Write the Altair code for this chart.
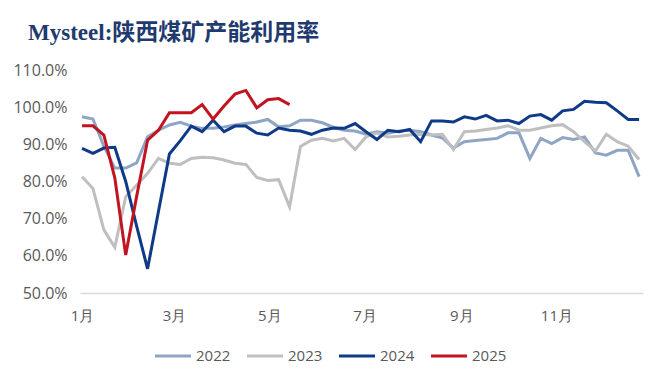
import altair as alt
import pandas as pd

years = ["2022", "2023", "2024", "2025"]
colors = ["#8EA5C6", "#BFBFBF", "#0E3A87", "#C01420"]
week_index = list(range(52))

y2022 = [97.4, 96.8, 89.5, 83.6, 83.6, 85.0, 92.0, 93.8, 95.2, 95.9,
         94.9, 94.3, 94.3, 94.7, 95.2, 95.6, 96.0, 96.7, 94.7, 95.0,
         96.5, 96.5, 95.8, 94.6, 93.8, 93.6, 92.7, 93.4, 93.0, 93.6,
         93.8, 93.4, 92.5, 91.7, 89.0, 90.7, 91.0, 91.3, 91.6, 93.1,
         93.1, 86.2, 91.6, 90.2, 91.8, 91.3, 92.0, 87.7, 87.1, 88.4,
         88.4, 81.3]
y2023 = [81.3, 78.1, 67.0, 62.3, 75.9, 79.0, 82.2, 86.2, 84.9, 84.6,
         86.2, 86.5, 86.4, 85.8, 84.9, 84.6, 81.1, 80.3, 80.5, 73.2,
         89.4, 91.1, 91.6, 90.9, 91.6, 88.6, 92.0, 93.0, 92.0, 92.2,
         92.5, 92.7, 92.5, 92.7, 88.6, 93.4, 93.6, 94.0, 94.4, 95.0,
         93.8, 93.8, 94.4, 95.0, 95.3, 93.4, 90.7, 88.2, 92.7, 90.7,
         89.5, 85.9]
y2024 = [88.9, 87.6, 89.0, 89.2, 80.0, 68.0, 56.5, 72.0, 87.4, 91.0,
         94.9, 93.4, 96.5, 93.4, 94.9, 94.9, 93.0, 92.5, 94.4, 93.8,
         93.6, 92.7, 93.8, 94.4, 94.3, 95.6, 93.4, 91.3, 93.8, 93.4,
         94.0, 90.7, 96.3, 96.3, 96.0, 97.4, 96.8, 97.8, 96.3, 96.5,
         95.6, 97.6, 98.0, 96.5, 99.0, 99.4, 101.6, 101.3, 101.2, 99.0,
         96.7, 96.7]
y2025 = [95.0, 95.0, 92.5, 81.0, 60.2, 76.0, 91.1, 93.8, 98.5, 98.5,
         98.5, 100.7, 96.8, 100.3, 103.5, 104.5, 99.8, 102.0, 102.3, 100.7]

month_days = [0, 59, 120, 181, 243, 304]
y_ticks = [50, 60, 70, 80, 90, 100, 110]

rows = []
for name, vals in zip(years, [y2022, y2023, y2024, y2025]):
    for w, v in zip(week_index, vals):
        rows.append({"week": w, "year": name, "rate": v})
df = pd.DataFrame(rows)

font = "Open Sans"
label_color = "#595959"

chart = alt.Chart(df).transform_calculate(
    day="datum.week * 7"
).mark_line(strokeWidth=3, strokeJoin="miter").encode(
    x=alt.X("day:Q",
            scale=alt.Scale(domain=[-1.3, 359.5], nice=False, zero=False),
            axis=alt.Axis(values=month_days,
                          labelExpr="timeFormat(datetime(2001, 0, 1 + datum.value), '%-m') + '月'",
                          ticks=False, grid=False, domainColor="#D9D9D9", domainWidth=1.5,
                          labelColor=label_color, labelFontSize=15, labelFont=font,
                          labelPadding=15, labelFlush=False),
            title=None),
    y=alt.Y("rate:Q",
            scale=alt.Scale(domain=[50, 110], nice=False, zero=False),
            axis=alt.Axis(values=y_ticks,
                          labelExpr="format(datum.value, '.1f') + '%'",
                          ticks=False, grid=False, domain=False,
                          labelColor=label_color, labelFontSize=16, labelFont=font,
                          labelPadding=13),
            title=None),
    color=alt.Color("year:N",
                    scale=alt.Scale(domain=years, range=colors),
                    legend=alt.Legend(orient="none", legendX=73, legendY=266,
                                      direction="horizontal", columns=4,
                                      title=None, symbolType="stroke",
                                      symbolStrokeWidth=3, symbolSize=1300,
                                      labelFontSize=15, labelFont=font,
                                      labelColor=label_color, labelOffset=3,
                                      columnPadding=9, padding=0)),
    detail="year:N"
).properties(
    width=563,
    height=223,
    title=alt.TitleParams("Mysteel:陕西煤矿产能利用率", anchor="start", frame="group",
                          dx=-52, offset=17,
                          font="Liberation Serif, Noto Sans CJK SC",
                          fontSize=23, fontWeight="bold", color="#1F3A6E"),
    autosize=alt.AutoSizeParams(type="none"),
    padding={"left": 72, "top": 62, "right": 5, "bottom": 90}
).configure_view(stroke=None)

chart.save("out.html", embed_options={"renderer": "svg", "actions": False})
